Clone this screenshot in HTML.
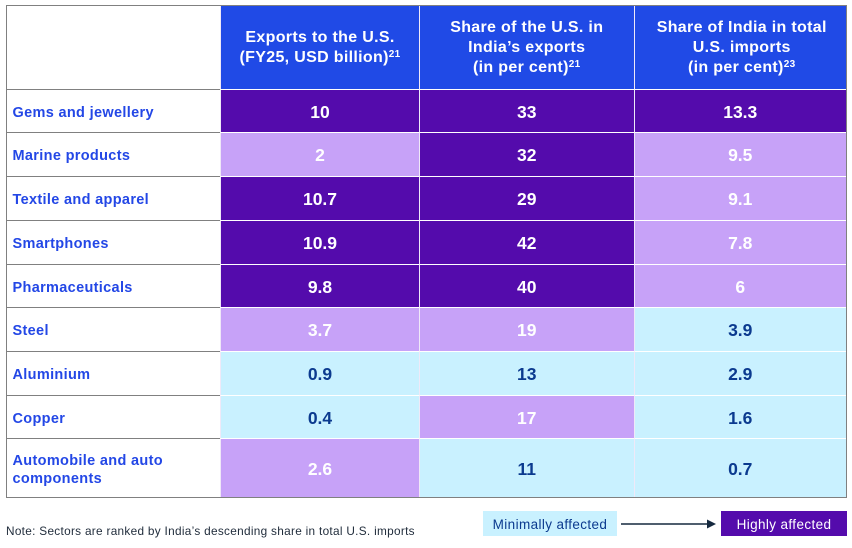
<!DOCTYPE html>
<html lang="en">
<head>
<meta charset="utf-8">
<title>India sector exposure to U.S. tariffs</title>
<style>
  html,body{margin:0;padding:0;background:#fff;}
  body{width:852px;height:548px;position:relative;overflow:hidden;font-family:"Liberation Sans",sans-serif;}
  #table-frame{position:absolute;left:6px;top:5px;width:839.5px;height:491px;border:1.5px solid #808080;box-sizing:content-box;margin:-0.5px 0 0 -0.5px;}
  #grid{display:grid;grid-template-columns:213.5px 199px 214.5px 212.5px;grid-template-rows:84px 43.5px 44px 44px 43.5px 43.5px 44px 43.5px 43.5px 57.5px;width:839.5px;height:491px;}
  .cell{display:flex;align-items:center;justify-content:center;text-align:center;box-sizing:border-box;border-bottom:1.5px solid #fff;border-left:1.5px solid #efe9f8;font-weight:bold;}
  .corner{background:#fff;border-left:none;border-bottom:1.5px solid #808080;}
  .head{background:#204ae6;color:#fff;font-size:16px;line-height:20px;letter-spacing:.32px;padding-top:1px;}
  .head sup{font-size:10px;line-height:0;vertical-align:baseline;position:relative;top:-5px;}
  .head-right{padding-left:3px;}
  .label{background:#fff;border-left:none;border-bottom:1.5px solid #808080;justify-content:flex-start;text-align:left;color:#2347e6;font-size:14.5px;line-height:18px;padding:3.5px 0 0 6px;letter-spacing:.33px;}
  .val{font-size:17.5px;padding-top:2.5px;}
  .lvl-0{background:#c9f1ff;color:#0b3a8f;}
  .lvl-1{background:#c7a2f8;color:#fff;}
  .lvl-2{background:#540bac;color:#fff;}
  .last{border-bottom:none;}
  #note{position:absolute;left:6px;top:524px;font-size:11.8px;line-height:14px;color:#1f2b3a;letter-spacing:.3px;white-space:nowrap;}
  .legend-box{position:absolute;top:511px;height:25px;display:flex;align-items:center;justify-content:center;font-size:13.5px;letter-spacing:.38px;padding-top:1px;box-sizing:border-box;}
  #arrow{position:absolute;left:620px;top:516px;}
</style>
</head>
<body>
<div id="table-frame">
  <div id="grid">
    <div class="cell corner"></div>
    <div class="cell head"><span>Exports to the U.S.<br>(FY25, USD billion)<sup>21</sup></span></div>
    <div class="cell head"><span>Share of the U.S. in<br>India’s exports<br>(in per cent)<sup>21</sup></span></div>
    <div class="cell head head-right"><span>Share of India in total<br>U.S. imports<br>(in per cent)<sup>23</sup></span></div>
  </div>
</div>
<div id="note">Note: Sectors are ranked by India’s descending share in total U.S. imports</div>
<div class="legend-box lvl-0" style="left:483px;width:134px;font-weight:normal">Minimally affected</div>
<svg id="arrow" width="98" height="16" viewBox="0 0 98 16">
  <line x1="1" y1="8" x2="90" y2="8" stroke="#15293f" stroke-width="1.5"/>
  <polygon points="87,3.5 96,8 87,12.5" fill="#15293f"/>
</svg>
<div class="legend-box lvl-2" style="left:721px;width:126px;font-weight:normal">Highly affected</div>

<script>
const sectors = ["Gems and jewellery","Marine products","Textile and apparel","Smartphones","Pharmaceuticals","Steel","Aluminium","Copper","Automobile and auto components"];
const exportsUsd = [10,2,10.7,10.9,9.8,3.7,0.9,0.4,2.6];
const usShare = [33,32,29,42,40,19,13,17,11];
const indiaShare = [13.3,9.5,9.1,7.8,6,3.9,2.9,1.6,0.7];
const exportsLevels = [2,1,2,2,2,1,0,0,1];
const usShareLevels = [2,2,2,2,2,1,0,1,0];
const indiaShareLevels = [2,1,1,1,1,0,0,0,0];

const grid = document.getElementById('grid');
const columnValues = [exportsUsd, usShare, indiaShare];
const columnLevels = [exportsLevels, usShareLevels, indiaShareLevels];
const columnKeys = ['exports','us-share','india-share'];

sectors.forEach(function (sector, r) {
  const isLast = r === sectors.length - 1;
  const slug = sector.toLowerCase().replace(/\s+/g, '-');
  const label = document.createElement('div');
  label.className = 'cell label' + (isLast ? ' last' : '');
  label.textContent = sector;
  if (sector.length > 25) { label.style.paddingRight = '40px'; }
  
  
  grid.appendChild(label);
  columnValues.forEach(function (vals, c) {
    const cell = document.createElement('div');
    cell.className = 'cell val lvl-' + columnLevels[c][r] + (isLast ? ' last' : '');
    cell.textContent = String(vals[r]);
    
    
    grid.appendChild(cell);
  });
});
</script>
</body>
</html>
